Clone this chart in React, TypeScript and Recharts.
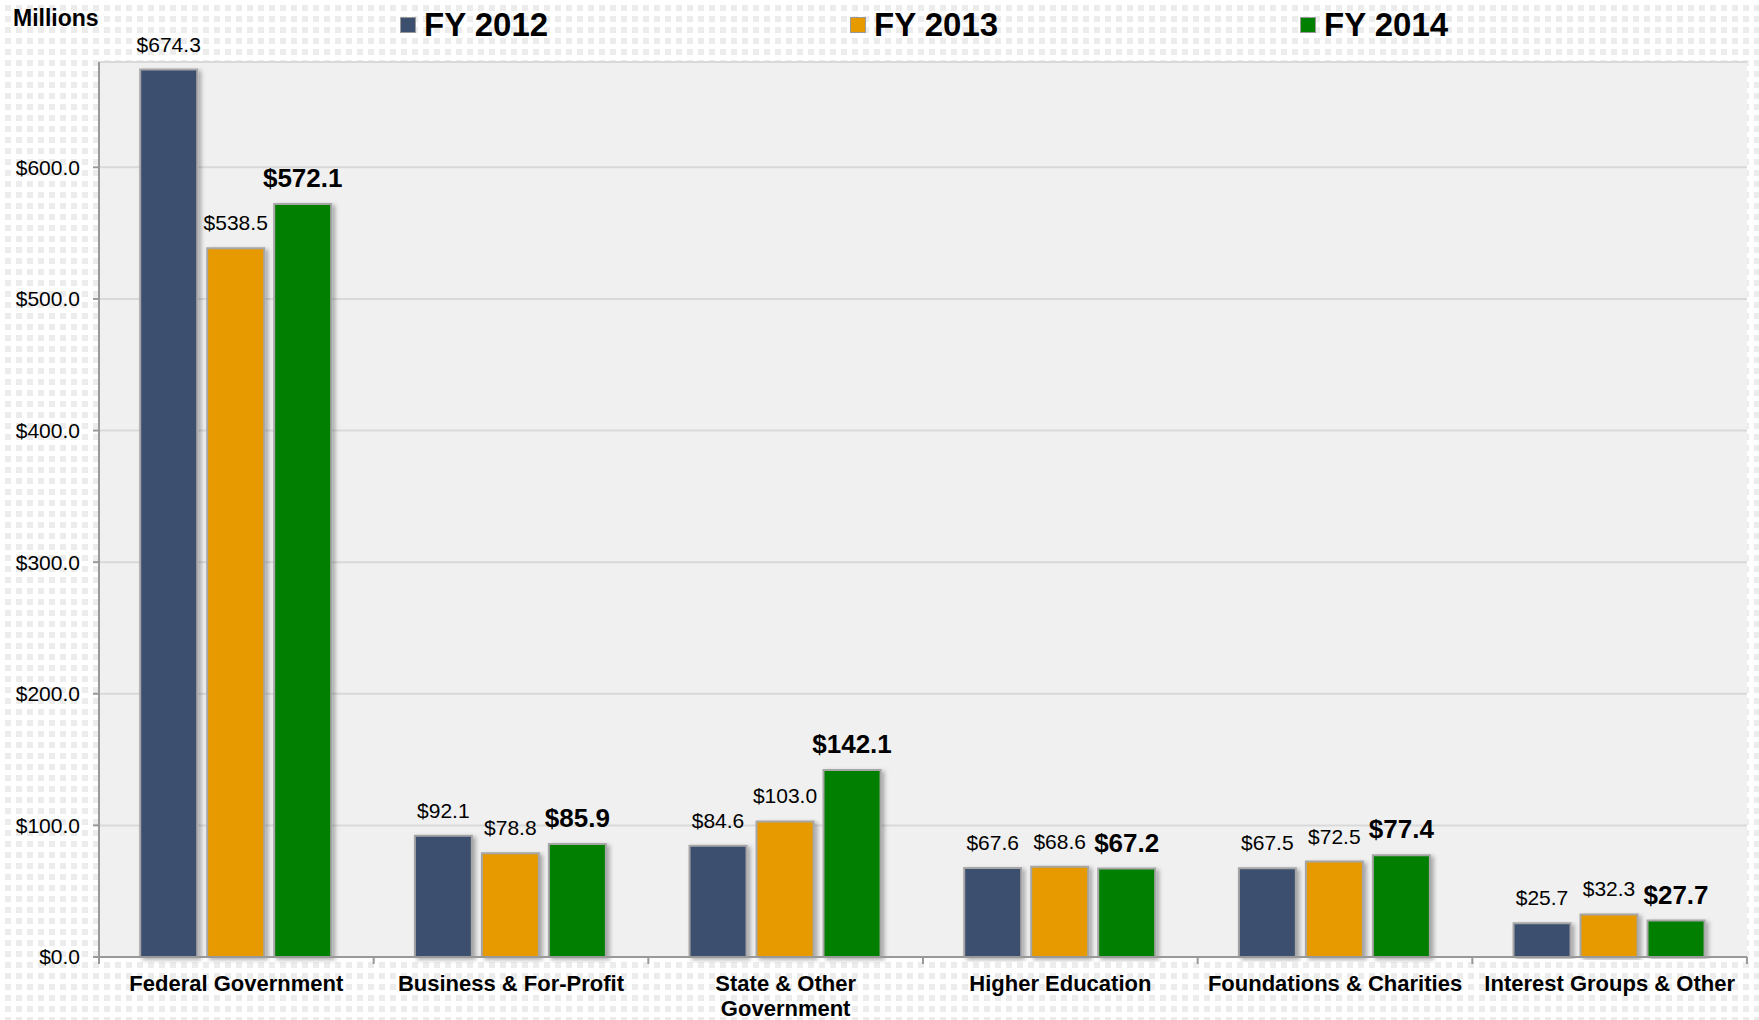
import { BarChart, Bar, XAxis, YAxis, CartesianGrid, LabelList } from "recharts"

const categories = [
  "Federal Government",
  "Business & For-Profit",
  "State & Other Government",
  "Higher Education",
  "Foundations & Charities",
  "Interest Groups & Other",
]
const fy2012 = [674.3, 92.1, 84.6, 67.6, 67.5, 25.7]
const fy2013 = [538.5, 78.8, 103.0, 68.6, 72.5, 32.3]
const fy2014 = [572.1, 85.9, 142.1, 67.2, 77.4, 27.7]
const seriesNames = ["FY 2012", "FY 2013", "FY 2014"]
const seriesKeys = ["fy2012", "fy2013", "fy2014"]
const seriesColors = ["#3d4f6e", "#e69a00", "#007f00"]
const yTicks = [0, 100, 200, 300, 400, 500, 600]
const yMax = 680

const data = categories.map((name, i) => ({
  name,
  fy2012: fy2012[i],
  fy2013: fy2013[i],
  fy2014: fy2014[i],
}))

const money = (v: any) => `$${Number(v).toFixed(1)}`

// break long category names into lines of at most n characters
const wrap = (s: string, n: number) => {
  const lines: string[] = []
  let cur = ""
  s.split(" ").forEach((w) => {
    const next = cur ? cur + " " + w : w
    if (next.length > n && cur) {
      lines.push(cur)
      cur = w
    } else cur = next
  })
  if (cur) lines.push(cur)
  return lines
}

const CategoryTick = (props: any) => {
  const { x, y, payload, index, visibleTicksCount } = props
  const half = payload?.offset || 137
  const axisY = y - 8
  const lines = wrap(String(payload.value), 23)
  return (
    <g>
      <line x1={x - half} x2={x - half} y1={axisY} y2={axisY + 7} stroke="#999" strokeWidth={2} />
      {index === visibleTicksCount - 1 && (
        <line x1={x + half} x2={x + half} y1={axisY} y2={axisY + 7} stroke="#999" strokeWidth={2} />
      )}
      <text x={x} y={axisY + 34} textAnchor="middle" fontSize={22} fontWeight="bold" fill="#000">
        {lines.map((l, i) => (
          <tspan key={i} x={x} dy={i === 0 ? 0 : 25}>
            {l}
          </tspan>
        ))}
      </text>
    </g>
  )
}

export default function App() {
  return (
    <div
      style={{
        position: "fixed",
        left: 0,
        top: 0,
        width: 1759,
        height: 1020,
        fontFamily: "'Liberation Sans', Arial, sans-serif",
        backgroundColor: "#fff",
        backgroundImage:
          "linear-gradient(90deg, #fff 5px, transparent 5px), linear-gradient(#fff 5px, #ececec 5px)",
        backgroundSize: "11px 11px",
      }}
    >
      <div style={{ position: "absolute", left: 13, top: 5, fontSize: 23, fontWeight: "bold" }}>Millions</div>
      {seriesNames.map((s, i) => (
        <div
          key={s}
          style={{
            position: "absolute",
            left: 400 + i * 450,
            top: 6,
            display: "flex",
            alignItems: "center",
            fontSize: 33,
            fontWeight: "bold",
          }}
        >
          <span
            style={{
              display: "inline-block",
              width: 14,
              height: 14,
              background: seriesColors[i],
              border: "1px solid #999",
              marginRight: 8,
            }}
          />
          {s}
        </div>
      ))}
      <BarChart
        width={1759}
        height={1020}
        data={data}
        margin={{ top: 62, right: 12, bottom: 0, left: 0 }}
        barCategoryGap="15%"
        barGap={10}
      >
        <defs>
          <filter id="barShadow" x="-20%" y="-5%" width="140%" height="110%">
            <feDropShadow dx={3} dy={2} stdDeviation={2} floodColor="#000" floodOpacity={0.3} />
          </filter>
        </defs>
        <CartesianGrid vertical={false} fill="#f0f0f0" stroke="#d9d9d9" strokeWidth={2} />
        <XAxis
          dataKey="name"
          height={63}
          interval={0}
          tickLine={false}
          axisLine={{ stroke: "#999", strokeWidth: 2 }}
          tick={<CategoryTick />}
        />
        <XAxis
          xAxisId="top"
          orientation="top"
          dataKey="name"
          height={0}
          tick={false}
          tickLine={false}
          axisLine={{ stroke: "#c0c0c0", strokeWidth: 2 }}
        />
        <YAxis
          width={99}
          domain={[0, yMax]}
          ticks={yTicks}
          tickFormatter={money}
          tick={{ fontSize: 21, fill: "#000" }}
          tickSize={6}
          tickMargin={13}
          tickLine={{ stroke: "#999", strokeWidth: 2 }}
          axisLine={{ stroke: "#999", strokeWidth: 2 }}
        />
        <YAxis
          yAxisId="right"
          orientation="right"
          width={0}
          domain={[0, yMax]}
          tick={false}
          tickLine={false}
          axisLine={{ stroke: "#c0c0c0", strokeWidth: 2 }}
        />
        {seriesKeys.map((k, i) => (
          <Bar
            key={k}
            dataKey={k}
            name={seriesNames[i]}
            fill={seriesColors[i]}
            stroke="#a6a6a6"
            strokeWidth={2}
            filter="url(#barShadow)"
            isAnimationActive={false}
          >
            <LabelList
              dataKey={k}
              position="top"
              offset={i === 2 ? 17 : 18}
              formatter={money}
              fontSize={i === 2 ? 26 : 21}
              fontWeight={i === 2 ? "bold" : "normal"}
              fill="#000"
            />
          </Bar>
        ))}
      </BarChart>
    </div>
  )
}
